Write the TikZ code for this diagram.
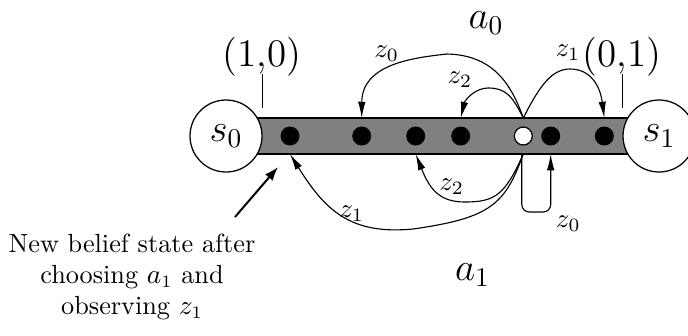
\documentclass[tikz,border=0pt]{standalone}
\usetikzlibrary{arrows.meta}
\begin{document}
\begin{tikzpicture}[x=0.4pt,y=-0.4pt,
  dotb/.style={circle,fill=black,inner sep=0pt,minimum size=7.6pt},
  dotw/.style={circle,draw,fill=white,line width=0.5pt,inner sep=0pt,minimum size=7.2pt},
  statec/.style={circle,draw,fill=white,line width=0.5pt,inner sep=0pt,minimum size=28.8pt},
  biglbl/.style={font=\Large,scale=1.085,inner sep=0pt},
  zlbl/.style={font=\normalsize,scale=1.08,inner sep=0pt},
  conn/.style={line width=0.45pt,-{Latex[length=6.5pt,width=3pt]}},
  tick/.style={line width=0.45pt}
]
\useasboundingbox (0,0) rectangle (688,335);
% bar
\coordinate (bt) at (0,118);
\coordinate (bb) at (0,154);
\coordinate (zb) at (0,212);
\draw[fill=gray, line width=0.5pt] (226,118) rectangle (659,154);
% states
\node[statec] (s0) at (226,136) {};
\node[statec] (s1) at (659,136) {};
\node[biglbl] at (s0) {$s_0$};
\node[biglbl] at (s1) {$s_1$};
% belief points
\node[dotb] (d1) at (290,136) {};
\node[dotb] (d2) at (361.7,136) {};
\node[dotb] (d3) at (415.7,136) {};
\node[dotb] (d4) at (460.7,136) {};
\node[dotw] (w)  at (523.3,136) {};
\node[dotb] (d6) at (550.7,136) {};
\node[dotb] (d7) at (604.3,136) {};
% corner labels and ticks
\node[biglbl] (l10) at (262,57) {(1,0)};
\node[biglbl] (l01) at (621.7,57) {(0,1)};
\coordinate (t1a) at (262.7,74);
\coordinate (t1b) at (262.7,108);
\coordinate (t2a) at (622.7,74);
\coordinate (t2b) at (622.7,108);
\draw[tick] (t1a) -- (t1b);
\draw[tick] (t2a) -- (t2b);
% actions
\node[biglbl] (a0) at (486,23) {$a_0$};
\node[biglbl] (a1) at (472.5,275) {$a_1$};
% upper transitions (a0)
\draw[conn] (w |- bt) .. controls (510,80) and (490,55) .. (447,54)
  .. controls (410,58) and (362,65) .. (d2 |- bt);
\draw[conn] (w |- bt) .. controls (512,95) and (505,88) .. (488,88)
  .. controls (475,88) and (465,100) .. (d4 |- bt);
\draw[conn] (w |- bt) .. controls (540,85) and (552,69) .. (570,69)
  .. controls (590,69) and (600,85) .. (d7 |- bt);
\node[zlbl] at (386.7,53.3) {$z_0$};
\node[zlbl] at (460,80) {$z_2$};
\node[zlbl] at (568,53) {$z_1$};
% lower transitions (a1)
\draw[conn] (w |- bb) .. controls (505,195) and (495,202) .. (465,202)
  .. controls (440,202) and (430,190) .. (d3 |- bb);
\draw[conn] (w |- bb) .. controls (505,205) and (490,218) .. (413,229)
  .. controls (350,235) and (325,210) .. (d1 |- bb);
\draw[conn, rounded corners=3pt] ([xshift=-0.6pt]w |- bb) -- ([xshift=-0.6pt]w |- zb) -- (d6 |- zb) -- (d6 |- bb);
\node[zlbl] at (451.7,186.7) {$z_2$};
\node[zlbl] at (351.7,213.3) {$z_1$};
\node[zlbl] at (568.3,223.3) {$z_0$};
% annotation
\node[align=center, font=\fontsize{10.5}{12.4}\selectfont, inner sep=0pt] (note) at (132,277) {New belief state after\\ choosing $a_1$ and\\ observing $z_1$};
\coordinate (nb) at (235,217);
\coordinate (ne) at (278,167);
\draw[line width=0.8pt, -{Latex[length=5.5pt,width=4pt]}] (nb) -- (ne);
\end{tikzpicture}
\end{document}
